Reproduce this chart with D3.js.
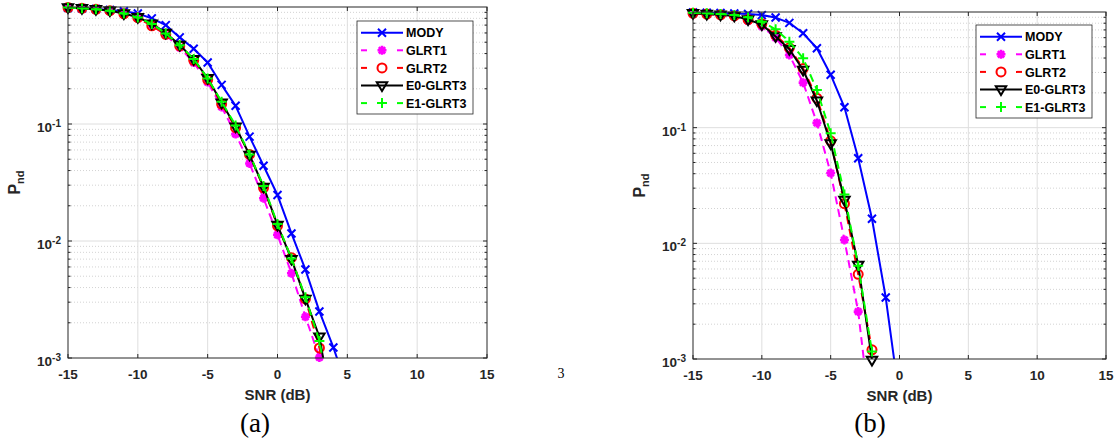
<!DOCTYPE html>
<html>
<head>
<meta charset="utf-8">
<script src="https://cdn.jsdelivr.net/npm/d3@7"></script>
<style>
  body { margin: 0; background: #fff; }
  svg { display: block; font-family: "Liberation Sans", Arial, sans-serif; }
</style>
</head>
<body>
<svg id="fig" width="1120" height="445"></svg>
<script>
// ---- data -------------------------------------------------------------
const seriesNames = ["MODY", "GLRT1", "GLRT2", "E0-GLRT3", "E1-GLRT3"];
const xTicks = [-15, -10, -5, 0, 5, 10, 15];
const xTickLabels = ["-15", "-10", "-5", "0", "5", "10", "15"];
const yTicks = [1e-3, 1e-2, 1e-1];
const yTickExp = ["-3", "-2", "-1"];

// panel (a)
const snrA = [-15, -14, -13, -12, -11, -10, -9, -8, -7, -6, -5, -4, -3, -2, -1, 0, 1, 2, 3, 4, 5];
const modyA  = [0.985, 0.975, 0.96, 0.945, 0.92, 0.88, 0.80, 0.70, 0.55, 0.44, 0.335, 0.216, 0.143, 0.078, 0.044, 0.0247, 0.0116, 0.0057, 0.0025, 0.00123, 0.00055];
const glrt1A = [0.99, 0.975, 0.952, 0.925, 0.87, 0.80, 0.70, 0.575, 0.45, 0.335, 0.228, 0.14, 0.082, 0.046, 0.0232, 0.0113, 0.0053, 0.00225, 0.00101, 0.0002];
const glrt2A = [0.99, 0.975, 0.955, 0.93, 0.875, 0.81, 0.69, 0.585, 0.465, 0.35, 0.24, 0.148, 0.093, 0.055, 0.0285, 0.0135, 0.0072, 0.0032, 0.00122, 0.0003];
const e0A    = [0.99, 0.975, 0.955, 0.93, 0.88, 0.816, 0.72, 0.60, 0.473, 0.357, 0.246, 0.152, 0.095, 0.0544, 0.029, 0.0137, 0.0070, 0.0032, 0.00152, 0.00032];
const e1A    = [0.99, 0.975, 0.955, 0.93, 0.88, 0.815, 0.715, 0.595, 0.47, 0.36, 0.245, 0.155, 0.097, 0.055, 0.0295, 0.014, 0.0071, 0.0033, 0.0014, 0.0003];

// panel (b)
const snrB = [-15, -14, -13, -12, -11, -10, -9, -8, -7, -6, -5, -4, -3, -2, -1, 0];
const modyB  = [0.99, 0.985, 0.98, 0.97, 0.96, 0.94, 0.895, 0.805, 0.655, 0.486, 0.287, 0.150, 0.0544, 0.0163, 0.0034, 0.00045];
const glrt1B = [0.975, 0.96, 0.945, 0.92, 0.84, 0.75, 0.60, 0.425, 0.245, 0.110, 0.0405, 0.0107, 0.00257, 0.00025];
const glrt2B = [0.975, 0.96, 0.945, 0.925, 0.86, 0.79, 0.63, 0.49, 0.325, 0.18, 0.077, 0.022, 0.0054, 0.0012];
const e0B    = [0.975, 0.96, 0.945, 0.925, 0.86, 0.78, 0.615, 0.476, 0.315, 0.171, 0.073, 0.0237, 0.0065, 0.00098];
const e1B    = [0.985, 0.975, 0.96, 0.94, 0.90, 0.824, 0.708, 0.554, 0.398, 0.212, 0.0895, 0.0265, 0.0064, 0.00116];

// ---- styles -----------------------------------------------------------
const styles = [
  { color: "#0000ff", dash: null,  marker: "x" },
  { color: "#ff00ff", dash: "8,5", marker: "*" },
  { color: "#ff0000", dash: "8,5", marker: "o" },
  { color: "#000000", dash: null,  marker: "v" },
  { color: "#00ff00", dash: "8,5", marker: "+" }
];
const serif = "'Liberation Serif', 'Times New Roman', serif";

function markerPath(type) {
  switch (type) {
    case "x": { const r = 4; return `M${-r},${-r}L${r},${r}M${-r},${r}L${r},${-r}`; }
    case "+": { const r = 5; return `M${-r},0L${r},0M0,${-r}L0,${r}`; }
    case "*": { const r = 4.5, d = 3.2;
      return `M${-r},0L${r},0M0,${-r}L0,${r}M${-d},${-d}L${d},${d}M${-d},${d}L${d},${-d}`; }
    case "o": { const r = 4.5;
      return `M${r},0A${r},${r} 0 1,1 ${-r},0A${r},${r} 0 1,1 ${r},0Z`; }
    case "v": { const r = 5.2;
      return `M${-r},${-r * 0.62}L${r},${-r * 0.62}L0,${r * 1.05}Z`; }
  }
}

const svg = d3.select("#fig");
const axisColor = "#262626";

function drawPanel(cfg, idx) {
  const x = d3.scaleLinear().domain([-15, 15]).range([cfg.left, cfg.right]);
  const y = d3.scaleLog().domain([1e-3, 1]).range([cfg.bottom, cfg.top]);
  const g = svg.append("g");

  const clipId = "clip" + idx;
  g.append("clipPath").attr("id", clipId)
    .append("rect").attr("x", cfg.left).attr("y", cfg.top)
    .attr("width", cfg.right - cfg.left).attr("height", cfg.bottom - cfg.top);

  // minor grid (dotted) at 2..9 x decade
  const minor = [];
  [1e-3, 1e-2, 1e-1].forEach(dec => { for (let k = 2; k <= 9; k++) minor.push(dec * k); });
  g.append("g").selectAll("line").data(minor).join("line")
    .attr("x1", cfg.left).attr("x2", cfg.right)
    .attr("y1", d => y(d)).attr("y2", d => y(d))
    .attr("stroke", "#c8c8c8").attr("stroke-width", 0.8)
    .attr("stroke-dasharray", "1,2");

  // major grid
  g.append("g").selectAll("line").data(yTicks.slice(1)).join("line")
    .attr("x1", cfg.left).attr("x2", cfg.right)
    .attr("y1", d => y(d)).attr("y2", d => y(d))
    .attr("stroke", "#dedede").attr("stroke-width", 1);
  g.append("g").selectAll("line").data(xTicks.slice(1, -1)).join("line")
    .attr("x1", d => x(d)).attr("x2", d => x(d))
    .attr("y1", cfg.top).attr("y2", cfg.bottom)
    .attr("stroke", "#dedede").attr("stroke-width", 1);

  // series
  cfg.series.forEach((vals, s) => {
    const st = styles[s];
    const pts = vals.map((v, i) => [cfg.snr[i], v]);
    const line = d3.line().x(d => x(d[0])).y(d => y(d[1]));
    g.append("path").datum(pts)
      .attr("d", line)
      .attr("clip-path", `url(#${clipId})`)
      .attr("fill", "none")
      .attr("stroke", st.color)
      .attr("stroke-width", 2)
      .attr("stroke-linejoin", "round")
      .attr("stroke-dasharray", st.dash);
    g.append("g").selectAll("path").data(pts.filter(d => d[1] >= 9e-4)).join("path")
      .attr("transform", d => `translate(${x(d[0])},${y(d[1])})`)
      .attr("d", markerPath(st.marker))
      .attr("fill", "none")
      .attr("stroke", st.color)
      .attr("stroke-width", st.marker === "*" ? 2.6 : 2);
  });

  // axes box
  g.append("rect")
    .attr("x", cfg.left).attr("y", cfg.top)
    .attr("width", cfg.right - cfg.left).attr("height", cfg.bottom - cfg.top)
    .attr("fill", "none").attr("stroke", axisColor).attr("stroke-width", 1);

  // ticks (inward)
  const tk = g.append("g").attr("stroke", axisColor).attr("stroke-width", 1);
  xTicks.forEach(t => {
    tk.append("line").attr("x1", x(t)).attr("x2", x(t)).attr("y1", cfg.bottom).attr("y2", cfg.bottom - 4);
    tk.append("line").attr("x1", x(t)).attr("x2", x(t)).attr("y1", cfg.top).attr("y2", cfg.top + 4);
  });
  yTicks.forEach(t => {
    tk.append("line").attr("x1", cfg.left).attr("x2", cfg.left + 4).attr("y1", y(t)).attr("y2", y(t));
    tk.append("line").attr("x1", cfg.right).attr("x2", cfg.right - 4).attr("y1", y(t)).attr("y2", y(t));
  });
  minor.forEach(t => {
    tk.append("line").attr("x1", cfg.left).attr("x2", cfg.left + 2.5).attr("y1", y(t)).attr("y2", y(t));
    tk.append("line").attr("x1", cfg.right).attr("x2", cfg.right - 2.5).attr("y1", y(t)).attr("y2", y(t));
  });

  // x tick labels
  g.append("g").selectAll("text").data(xTicks).join("text")
    .attr("x", d => x(d)).attr("y", cfg.bottom + 21)
    .attr("text-anchor", "middle")
    .attr("font-size", 13.5).attr("font-weight", "bold").attr("fill", axisColor)
    .text((d, i) => xTickLabels[i]);

  // y tick labels 10^k
  yTicks.forEach((t, i) => {
    const tx = g.append("text")
      .attr("x", cfg.left - 7).attr("y", y(t) + 8)
      .attr("text-anchor", "end")
      .attr("font-weight", "bold").attr("fill", axisColor);
    tx.append("tspan").attr("font-size", 13.5).text("10");
    tx.append("tspan").attr("font-size", 10).attr("dy", -5).text(yTickExp[i]);
  });

  // axis titles
  g.append("text")
    .attr("x", (cfg.left + cfg.right) / 2).attr("y", cfg.bottom + 42)
    .attr("text-anchor", "middle")
    .attr("font-size", 15).attr("font-weight", "bold").attr("fill", axisColor)
    .text("SNR (dB)");
  const yl = g.append("text")
    .attr("transform", `translate(${cfg.yLabelX},${(cfg.top + cfg.bottom) / 2}) rotate(-90)`)
    .attr("text-anchor", "middle")
    .attr("font-weight", "bold").attr("fill", axisColor);
  yl.append("tspan").attr("font-size", 16).text("P");
  yl.append("tspan").attr("font-size", 11).attr("dy", 4).text("nd");

  // panel caption
  g.append("text")
    .attr("x", cfg.captionX).attr("y", 432)
    .attr("text-anchor", "middle")
    .style("font-family", serif)
    .attr("font-size", 27).attr("fill", "#000")
    .text(cfg.caption);

  // legend
  const lg = g.append("g").attr("transform", `translate(${cfg.legX},${cfg.legY})`);
  lg.append("rect").attr("x", 0).attr("y", 0).attr("width", 116).attr("height", 93)
    .attr("fill", "#fff").attr("stroke", axisColor).attr("stroke-width", 0.8);
  seriesNames.forEach((name, s) => {
    const st = styles[s];
    const ry = 11.7 + 17.6 * s;
    if (st.dash) {
      lg.append("line").attr("x1", 4).attr("x2", 10).attr("y1", ry).attr("y2", ry)
        .attr("stroke", st.color).attr("stroke-width", 2);
      lg.append("line").attr("x1", 40).attr("x2", 46).attr("y1", ry).attr("y2", ry)
        .attr("stroke", st.color).attr("stroke-width", 2);
    } else {
      lg.append("line").attr("x1", 4).attr("x2", 46).attr("y1", ry).attr("y2", ry)
        .attr("stroke", st.color).attr("stroke-width", 2);
    }
    lg.append("path").attr("transform", `translate(25,${ry})`)
      .attr("d", markerPath(st.marker)).attr("fill", "none")
      .attr("stroke", st.color).attr("stroke-width", st.marker === "*" ? 2.6 : 2);
    lg.append("text").attr("x", 49).attr("y", ry + 4.6)
      .attr("font-size", 12.5).attr("font-weight", "bold").attr("fill", "#000")
      .text(name);
  });
}

drawPanel({
  left: 68, right: 487, top: 7, bottom: 358,
  snr: snrA, series: [modyA, glrt1A, glrt2A, e0A, e1A],
  yLabelX: 20, caption: "(a)", captionX: 255,
  legX: 357, legY: 21
}, 0);

drawPanel({
  left: 693, right: 1106, top: 12, bottom: 359,
  snr: snrB, series: [modyB, glrt1B, glrt2B, e0B, e1B],
  yLabelX: 645, caption: "(b)", captionX: 870,
  legX: 976, legY: 25
}, 1);

// stray figure-caption superscript between the panels
svg.append("text")
  .attr("x", 561).attr("y", 378)
  .attr("text-anchor", "middle")
  .style("font-family", serif)
  .attr("font-size", 14).attr("fill", "#000")
  .text("3");
</script>
</body>
</html>
